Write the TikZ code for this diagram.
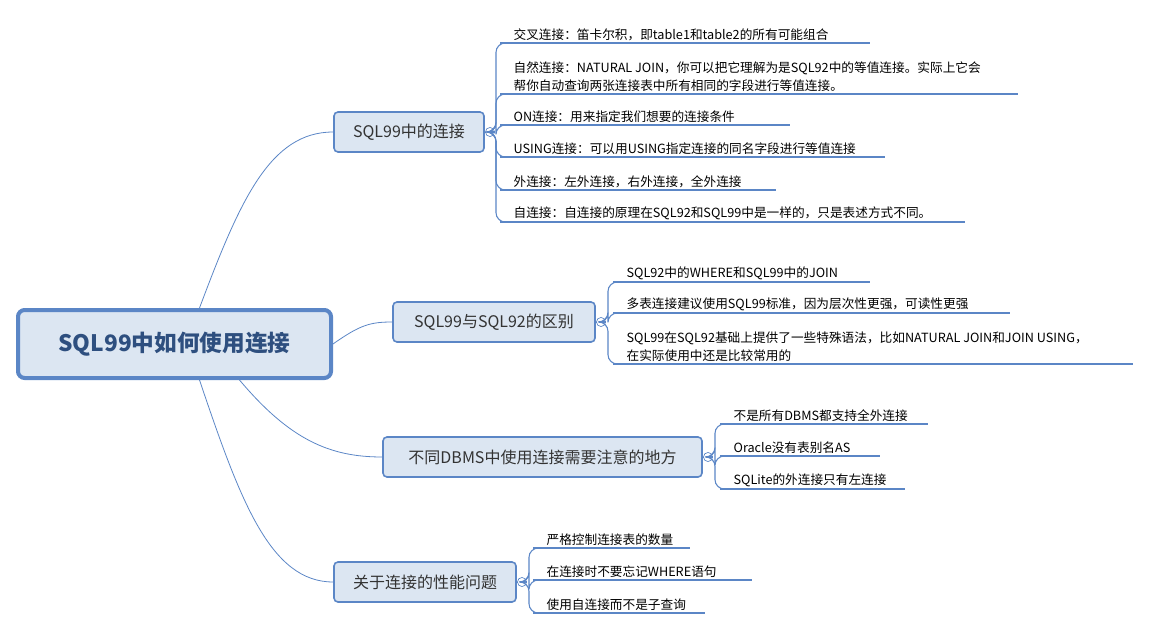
\documentclass[tikz,border=0pt]{standalone}
\usepackage{fontspec}
\setmainfont{Noto Sans CJK SC}
\begin{document}
\begin{tikzpicture}[x=0.75pt,y=-0.75pt]
\definecolor{lc}{HTML}{5B86C6}
\definecolor{bf}{HTML}{DCE6F2}
\definecolor{rt}{HTML}{2E4F7F}
\tikzset{
 root/.style={draw=lc,line width=3pt,fill=bf,rounded corners=5pt,minimum width=313*0.75pt,minimum height=68*0.75pt,font=\fontsize{17}{20}\selectfont\bfseries,text=rt},
 br/.style={draw=lc,line width=1.2pt,fill=bf,rounded corners=3pt,minimum height=40*0.75pt,font=\fontsize{12}{14}\selectfont,text=black!80,inner xsep=8pt},
 lf/.style={anchor=south west,font=\fontsize{9.5}{13.5}\selectfont,align=left,inner sep=1pt},
 ul/.style={draw=lc,line width=1.6pt},
 con/.style={draw=lc,line width=0.6pt},
 bk/.style={draw=lc,line width=0.8pt,rounded corners=7pt},
 tg/.style={circle,draw=lc,fill=white,line width=0.5pt,inner sep=0pt,minimum size=8*0.75pt},
}
\useasboundingbox (0,0) rectangle (1151,631);
\node[root] (R) at (174.5,344) {SQL99中如何使用连接};
\node[br,minimum width=150*0.75pt] (B1) at (409,132) {SQL99中的连接};
\node[br,minimum width=202*0.75pt] (B2) at (494,322) {SQL99与SQL92的区别};
\node[br,minimum width=319*0.75pt] (B3) at (542.5,457) {不同DBMS中使用连接需要注意的地方};
\node[br,minimum width=182*0.75pt] (B4) at (425,582) {关于连接的性能问题};
\draw[con] (R.north)+(25,0) coordinate(r1) (r1) .. controls (240,200) and (270,132) .. (B1.west);
\draw[con] (R.east) .. controls (360,325) and (370,322) .. (B2.west);
\draw[con] (R.south)+(65,0) coordinate(r3) (r3) .. controls (290,440) and (330,457) .. (B3.west);
\draw[con] (R.south)+(25,0) coordinate(r4) (r4) .. controls (240,500) and (270,582) .. (B4.west);
\node[tg] (T1) at (490,132) {\tiny$-$};
\node[tg] (T2) at (601,322) {\tiny$-$};
\node[tg] (T3) at (708,457) {\tiny$-$};
\node[tg] (T4) at (522,582) {\tiny$-$};
\draw[con] (B1.east)--(T1.west) (B2.east)--(T2.west) (B3.east)--(T3.west) (B4.east)--(T4.west);
% leaves macro-like manual
\foreach \n/\y/\xe/\t in {a/43/870/{交叉连接：笛卡尔积，即table1和table2的所有可能组合},
 b/94/1018/{自然连接：NATURAL JOIN，你可以把它理解为是SQL92中的等值连接。实际上它会\\帮你自动查询两张连接表中所有相同的字段进行等值连接。},
 c/125/790/{ON连接：用来指定我们想要的连接条件},
 d/157/885/{USING连接：可以用USING指定连接的同名字段进行等值连接},
 e/190/776/{外连接：左外连接，右外连接，全外连接},
 f/222/965/{自连接：自连接的原理在SQL92和SQL99中是一样的，只是表述方式不同。}}{
 \coordinate (s\n) at (500,\y); \coordinate (e\n) at (\xe,\y);
 \node[lf] (L\n) at (512,\y-1) {\t};
 \draw[bk] (T1.east) -- (496,132) |- (s\n);
 \draw[ul] (s\n) -- (e\n);
}
\foreach \n/\y/\xe/\t in {a/282/870/{SQL92中的WHERE和SQL99中的JOIN},
 b/313/1010/{多表连接建议使用SQL99标准，因为层次性更强，可读性更强},
 c/364/1133/{SQL99在SQL92基础上提供了一些特殊语法，比如NATURAL JOIN和JOIN USING，\\在实际使用中还是比较常用的}}{
 \coordinate (s\n) at (613,\y); \coordinate (e\n) at (\xe,\y);
 \node[lf] (M\n) at (625,\y-1) {\t};
 \draw[bk] (T2.east) -- (608,322) |- (s\n);
 \draw[ul] (s\n) -- (e\n);
}
\foreach \n/\y/\xe/\t in {a/424/928/{不是所有DBMS都支持全外连接},
 b/456/880/{Oracle没有表别名AS},
 c/489/905/{SQLite的外连接只有左连接}}{
 \coordinate (s\n) at (720,\y); \coordinate (e\n) at (\xe,\y);
 \node[lf] (N\n) at (732,\y-1) {\t};
 \draw[bk] (T3.east) -- (715,457) |- (s\n);
 \draw[ul] (s\n) -- (e\n);
}
\foreach \n/\y/\xe/\t in {a/548/690/{严格控制连接表的数量},
 b/580/752/{在连接时不要忘记WHERE语句},
 c/613/705/{使用自连接而不是子查询}}{
 \coordinate (s\n) at (533,\y); \coordinate (e\n) at (\xe,\y);
 \node[lf] (P\n) at (545,\y-1) {\t};
 \draw[bk] (T4.east) -- (529,582) |- (s\n);
 \draw[ul] (s\n) -- (e\n);
}
\end{tikzpicture}
\end{document}
